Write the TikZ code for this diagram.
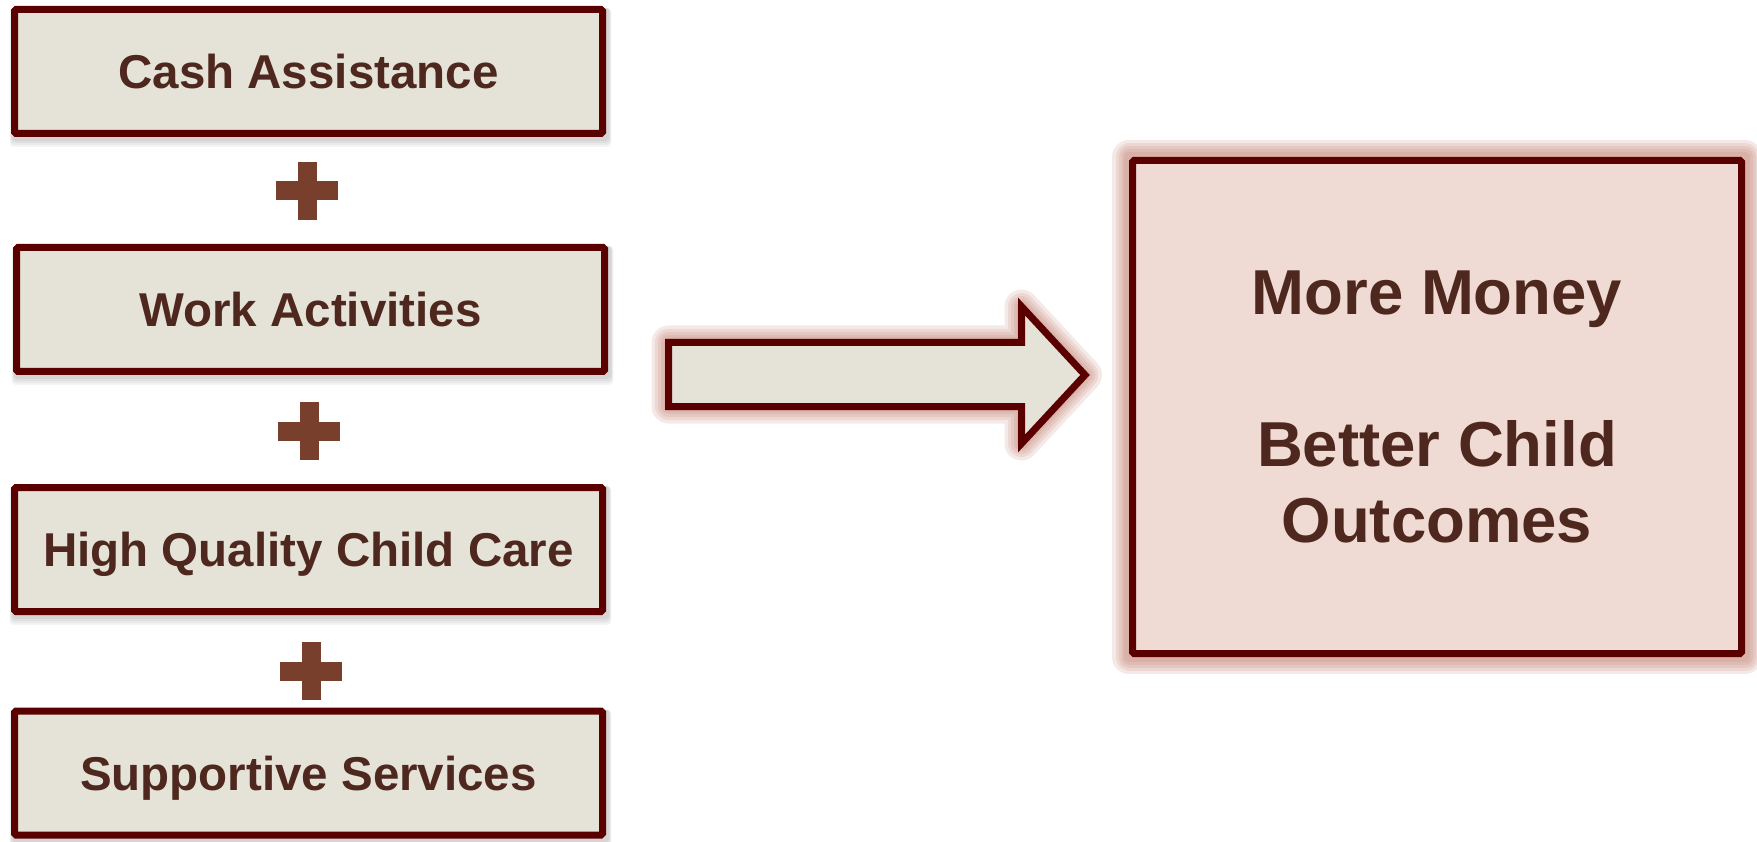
\documentclass[tikz,border=0pt]{standalone}
\usepackage{fontspec}
\setmainfont{Liberation Sans}
\usetikzlibrary{backgrounds}
\definecolor{bord}{RGB}{90,0,0}
\definecolor{beige}{RGB}{229,226,215}
\definecolor{pinkfill}{RGB}{239,219,211}
\definecolor{txt}{RGB}{78,40,30}
\definecolor{pluscol}{RGB}{120,64,44}
\definecolor{glowc}{RGB}{190,120,104}
\begin{document}
\begin{tikzpicture}[x=1pt,y=-1pt,
  lbox/.style={draw=bord, line width=7pt, fill=beige, minimum width=588pt, minimum height=124pt,
    inner sep=0pt, text=txt, font=\fontsize{47.5}{57}\selectfont\bfseries, text height=34pt, text depth=0pt,
    rounded corners=1.5pt},
  bigbox/.style={draw=bord, line width=7pt, fill=pinkfill, minimum width=609pt, minimum height=493pt,
    inner sep=0pt, align=center, text=txt, font=\fontsize{63.5}{76}\selectfont\bfseries, rounded corners=1.5pt},
  shadowlayer/.style={fill=black, opacity=0.045, rounded corners=4pt},
  glowlayer/.style={draw=glowc, opacity=0.16, line join=round},
  pluspic/.pic={\fill[pluscol] (-31,-9.5) rectangle (31,9.5); \fill[pluscol] (-9.5,-29) rectangle (9.5,29);}
]
\useasboundingbox (0,0) rectangle (1757,842);

% left column
\node[lbox] (b1) at (308.5,71.5) {Cash Assistance};
\node[lbox] (b2) at (310.5,309.5) {Work Activities};
\node[lbox] (b3) at (308.5,549.5) {High Quality Child Care};
\node[lbox] (b4) at (308.5,773) {Supportive Services};

\pic at (307,191) {pluspic};
\pic at (309,431) {pluspic};
\pic at (311,671) {pluspic};

% result box
\node[bigbox] (out) at (1437,407) {More Money\\[76pt]Better Child\\Outcomes};

\begin{pgfonlayer}{background}
  \foreach \b in {b1,b2,b3,b4}{
    \foreach \s in {1,3,5,7}{
      \fill[shadowlayer] ([shift={(1-\s/3,2)}]\b.north west) rectangle ([shift={(3+\s/3,3+\s)}]\b.south east);
    }
  }
  \foreach \w in {34,27,21,15,10}{
    \draw[glowlayer, line width=\w pt] (out.north west) rectangle (out.south east);
  }
\end{pgfonlayer}

% arrow
\coordinate (a1) at (668.5,342.5);
\coordinate (a2) at (1021.5,342.5);
\coordinate (a3) at (1021.5,306.5);
\coordinate (tip) at (1085,375);
\coordinate (a5) at (1021.5,443.5);
\coordinate (a6) at (1021.5,406.5);
\coordinate (a7) at (668.5,406.5);
\foreach \w in {34,27,21,15,10}{
  \draw[glowlayer, line width=\w pt] (a1) -- (a2) -- (a3) -- (tip) -- (a5) -- (a6) -- (a7) -- cycle;
}
\draw[draw=bord, fill=beige, line width=7pt, line join=miter] (a1) -- (a2) -- (a3) -- (tip) -- (a5) -- (a6) -- (a7) -- cycle;
\end{tikzpicture}
\end{document}
